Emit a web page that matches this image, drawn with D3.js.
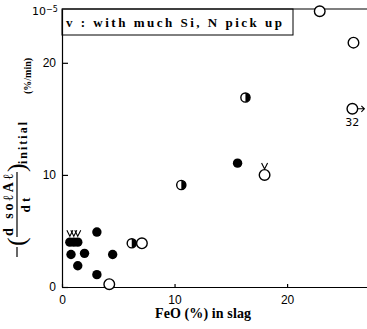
<!DOCTYPE html>
<html>
<head>
<meta charset="utf-8">
<script src="https://cdn.jsdelivr.net/npm/d3@7"></script>
<style>
  body { margin: 0; background: #fff; }
  svg { display: block; }
</style>
</head>
<body>
<script>
// data (FeO % vs initial rate, x1e-5 %/min)
var filledX = [0.7, 1.05, 1.4, 0.8, 2.0, 1.4, 3.1, 4.5, 3.1, 15.6]
var filledY = [4.0, 4.0, 4.0, 2.9, 3.0, 1.9, 4.9, 2.9, 1.1, 11.05]
var filledV = [true, true, true, false, false, false, false, false, false, false]

var openX = [4.2, 7.1, 18.0, 22.9, 25.9, 25.8]
var openY = [0.25, 3.9, 10.0, 24.6, 21.8, 15.9]
var openV = [false, false, true, false, false, false]
var openNote = ['', '', '', '', '', '32']

var halfX = [6.2, 10.6, 16.3]
var halfY = [3.9, 9.1, 16.9]

var xTicks = [0, 10, 20]
var yTicks = [0, 10, 20]

var width = 367, height = 329
var margin = { top: 9, left: 62, bottom: 42 }

var x = d3.scaleLinear().domain([0, 27.1]).range([margin.left, width])
var y = d3.scaleLinear().domain([0, 24.8]).range([height - margin.bottom, margin.top])

var svg = d3.select('body').append('svg')
  .attr('width', width)
  .attr('height', height)
  .style('font-family', 'DejaVu Sans, sans-serif')

// axes, ticks point inward
var xAxis = d3.axisBottom(x).tickValues(xTicks).tickSizeInner(-3).tickSizeOuter(0).tickPadding(8)
var yAxis = d3.axisLeft(y).tickValues(yTicks).tickSizeInner(-6).tickSizeOuter(0).tickPadding(6)

var gx = svg.append('g')
  .attr('transform', 'translate(0,' + y(0) + ')')
  .call(xAxis)
var gy = svg.append('g')
  .attr('transform', 'translate(' + x(0) + ',0)')
  .call(yAxis)

svg.selectAll('.domain, .tick line').attr('stroke', '#000').attr('stroke-width', 1.2)
svg.selectAll('.tick text').attr('font-size', 12).attr('fill', '#000')

// top frame line
svg.append('line')
  .attr('x1', x(0)).attr('x2', width)
  .attr('y1', y(24.8)).attr('y2', y(24.8))
  .attr('stroke', '#000').attr('stroke-width', 1.2)

// 10^-5 multiplier
var mult = svg.append('text').attr('x', 32).attr('y', 15).attr('font-size', 11)
mult.append('tspan').text('10')
mult.append('tspan').attr('dy', -3).attr('font-size', 8).text('−5')

// legend box
svg.append('rect')
  .attr('x', x(0)).attr('y', y(24.8))
  .attr('width', 231).attr('height', 26)
  .attr('fill', 'none').attr('stroke', '#000').attr('stroke-width', 1)
svg.append('text')
  .attr('x', 66).attr('y', 27)
  .attr('font-family', 'Liberation Serif, serif')
  .attr('font-weight', 'bold')
  .attr('font-size', 13)
  .attr('textLength', 216)
  .attr('lengthAdjust', 'spacing')
  .text('v : with much Si, N pick up')

// x title
svg.append('text')
  .attr('x', 155).attr('y', 318)
  .attr('font-family', 'Liberation Serif, serif')
  .attr('font-weight', 'bold')
  .attr('font-size', 14)
  .attr('textLength', 96)
  .attr('lengthAdjust', 'spacing')
  .text('FeO (%) in slag')

// y title, built in rotated coords
var yt = svg.append('g')
  .attr('transform', 'translate(22,257) rotate(-90)')
  .attr('font-family', 'Liberation Serif, serif')
  .attr('font-weight', 'bold')
yt.append('line').attr('x1', 0).attr('x2', 10).attr('y1', -5).attr('y2', -5)
  .attr('stroke', '#000').attr('stroke-width', 1.2)
yt.append('text').attr('x', 11).attr('y', 3).attr('font-size', 26).attr('font-weight', 'normal').text('(')
yt.append('text').attr('x', 21).attr('y', -9).attr('font-size', 14)
  .attr('textLength', 62).attr('lengthAdjust', 'spacing').text('d soℓAℓ')
yt.append('line').attr('x1', 20).attr('x2', 85).attr('y1', -5).attr('y2', -5)
  .attr('stroke', '#000').attr('stroke-width', 1.2)
yt.append('text').attr('x', 52).attr('y', 8).attr('font-size', 13)
  .attr('text-anchor', 'middle').text('d t')
yt.append('text').attr('x', 85).attr('y', 3).attr('font-size', 26).attr('font-weight', 'normal').text(')')
yt.append('text').attr('x', 93).attr('y', 5).attr('font-size', 12)
  .attr('textLength', 42).attr('lengthAdjust', 'spacing').text('initial')
yt.append('text').attr('x', 163).attr('y', 9).attr('font-size', 10)
  .text('(%/min)')

// v mark above a point
function vMark(cx, cy) {
  svg.append('path')
    .attr('d', 'M' + (cx - 3) + ',' + (cy - 12) + 'L' + cx + ',' + (cy - 6) + 'L' + (cx + 3) + ',' + (cy - 12))
    .attr('fill', 'none').attr('stroke', '#000').attr('stroke-width', 1.1)
}

// filled points
filledX.forEach(function(d, i) {
  svg.append('circle')
    .attr('cx', x(d)).attr('cy', y(filledY[i])).attr('r', 4.7)
    .attr('fill', '#000')
  if (filledV[i]) vMark(x(d), y(filledY[i]))
})

// half filled points
halfX.forEach(function(d, i) {
  var cx = x(d), cy = y(halfY[i]), r = 4.6
  svg.append('circle').attr('cx', cx).attr('cy', cy).attr('r', r)
    .attr('fill', '#fff').attr('stroke', '#000').attr('stroke-width', 1.4)
  svg.append('path')
    .attr('d', 'M' + cx + ',' + (cy - r) + 'A' + r + ',' + r + ' 0 0 1 ' + cx + ',' + (cy + r) + 'Z')
    .attr('fill', '#000')
})

// open points
openX.forEach(function(d, i) {
  var cx = x(d), cy = y(openY[i])
  svg.append('circle').attr('cx', cx).attr('cy', cy).attr('r', 5.3)
    .attr('fill', '#fff').attr('stroke', '#000').attr('stroke-width', 1.4)
  if (openV[i]) vMark(cx, cy)
  if (openNote[i]) {
    // off-scale arrow and value
    svg.append('path')
      .attr('d', 'M' + (cx + 5) + ',' + cy + 'H' + (cx + 12) + 'M' + (cx + 9) + ',' + (cy - 3) + 'L' + (cx + 12) + ',' + cy + 'L' + (cx + 9) + ',' + (cy + 3))
      .attr('fill', 'none').attr('stroke', '#000').attr('stroke-width', 1.1)
    svg.append('text').attr('x', cx).attr('y', cy + 17)
      .attr('text-anchor', 'middle').attr('font-size', 11).text(openNote[i])
  }
})
</script>
</body>
</html>
